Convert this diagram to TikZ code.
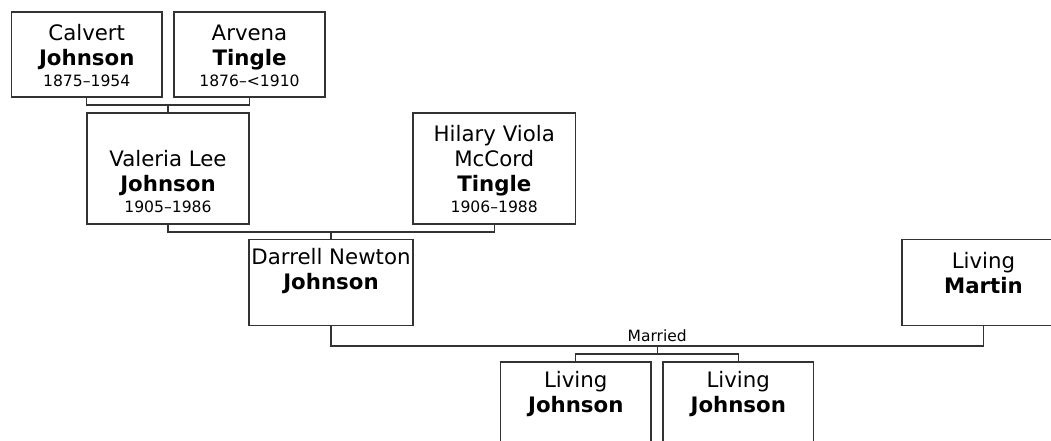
\documentclass[tikz,border=0pt]{standalone}
\usepackage{fontspec}
\setmainfont{DejaVu Sans}
\begin{document}
\begin{tikzpicture}[x=1pt,y=-1pt,
  person/.style={draw=black!80, line width=1.3pt, fill=white, inner sep=0pt, rectangle},
  conn/.style={draw=black!80, line width=1.3pt},
  nametext/.style={inner sep=0pt, align=center, anchor=south, font=\fontsize{21.3}{25}\selectfont},
  datefont/.style={},
  smalllabel/.style={inner sep=0pt, anchor=base, font=\fontsize{15.5}{19}\selectfont}]
\newcommand{\yrs}[1]{{\fontsize{15.6}{19}\selectfont #1}}
\useasboundingbox (0,0) rectangle (1051,441);
\clip (0,0) rectangle (1051,441);
\fill[white] (0,0) rectangle (1051,441);

% coordinates of connector junctions
\coordinate (m1) at (168,105);
\coordinate (m2) at (331,232);
\coordinate (m3) at (657.25,346);
\coordinate (m4) at (657.25,354);

% boxes
\node[person, minimum width=150.5pt, minimum height=85pt] (calvert) at (86.75,54.5) {};
\node[person, minimum width=151pt, minimum height=85pt] (arvena) at (249.5,54.5) {};
\node[person, minimum width=162pt, minimum height=111pt] (valeria) at (168,168.5) {};
\node[person, minimum width=162.5pt, minimum height=111pt] (hilary) at (494.25,168.5) {};
\node[person, minimum width=164pt, minimum height=86pt] (darrell) at (331,282.5) {};
\node[person, minimum width=163pt, minimum height=86pt] (martin) at (983.5,282.5) {};
\node[person, minimum width=150.5pt, minimum height=86pt] (child1) at (575.75,405) {};
\node[person, minimum width=150.5pt, minimum height=86pt] (child2) at (738.25,405) {};

% texts
\node[nametext] (calvert-t) at (86.75,86.7) {Calvert\\\textbf{Johnson}\\[-4pt]\yrs{1875–1954}};
\node[nametext] (arvena-t) at (249.5,86.7) {Arvena\\\textbf{Tingle}\\[-4pt]\yrs{1876–<1910}};
\node[nametext] (valeria-t) at (168,213) {Valeria Lee\\\textbf{Johnson}\\[-4pt]\yrs{1905–1986}};
\node[nametext] (hilary-t) at (494.25,213) {Hilary Viola\\McCord\\\textbf{Tingle}\\[-4pt]\yrs{1906–1988}};
\node[nametext] (darrell-t) at (331,294.3) {Darrell Newton\\\textbf{Johnson}};
\node[nametext] (martin-t) at (983.5,294.3) {Living\\\textbf{Martin}};
\node[nametext] (child1-t) at (575.75,416.8) {Living\\\textbf{Johnson}};
\node[nametext] (child2-t) at (738.25,416.8) {Living\\\textbf{Johnson}};

% connectors
\draw[conn] (calvert.south) |- (m1) -| (arvena.south);
\draw[conn] (m1) -- (valeria.north);
\draw[conn] (valeria.south) |- (m2) -| (hilary.south);
\draw[conn] (m2) -- (darrell.north);
\draw[conn] (darrell.south) |- (m3) -| (martin.south);
\draw[conn] (m3) -- (m4);
\draw[conn] (child1.north) |- (m4) -| (child2.north);

\node[smalllabel] (married) at (657.25,341.5) {Married};
\end{tikzpicture}
\end{document}
